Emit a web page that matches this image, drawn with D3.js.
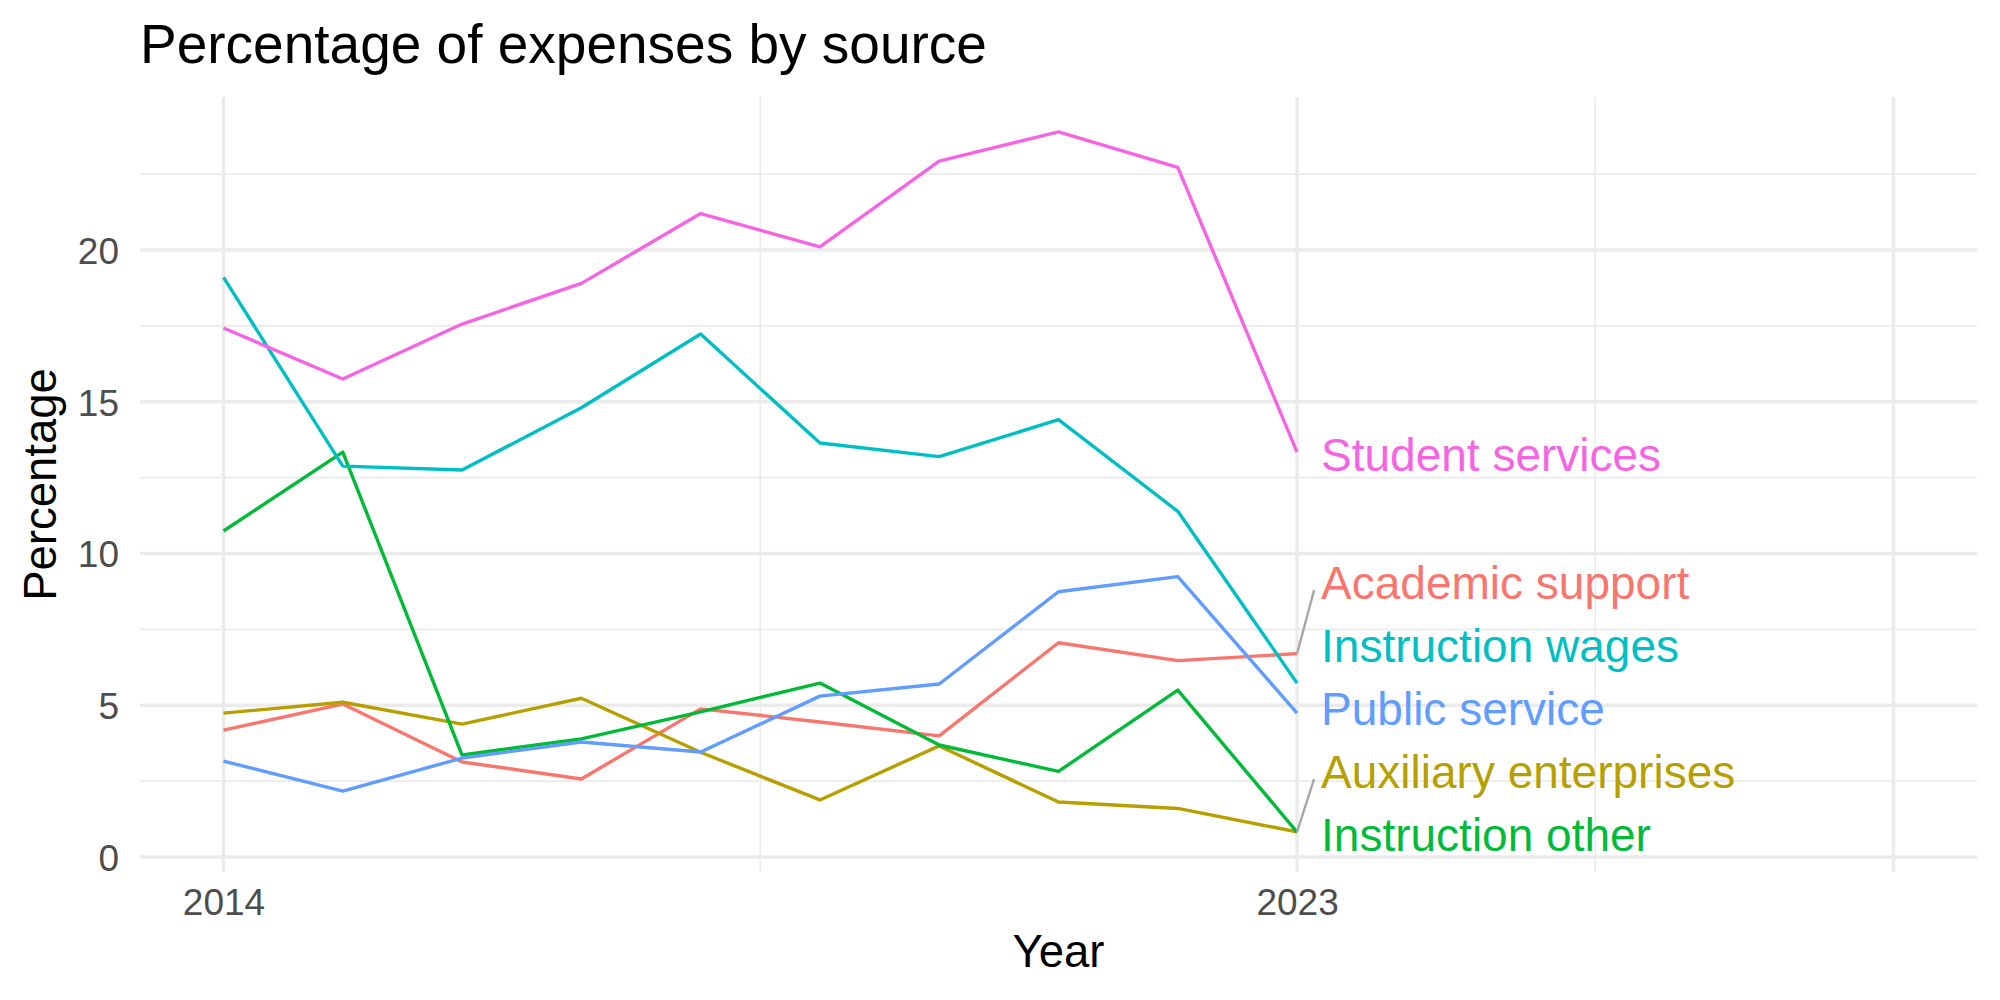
<!DOCTYPE html>
<html>
<head>
<meta charset="utf-8">
<script src="https://cdn.jsdelivr.net/npm/d3@7"></script>
<style>
  html, body { margin: 0; padding: 0; background: #fff; }
  svg { display: block; font-family: "Liberation Sans", Arial, Helvetica, sans-serif; }
</style>
</head>
<body>
<svg id="chart" width="2000" height="1000"></svg>
<script>
// ---- data ----
const years = [2014, 2015, 2016, 2017, 2018, 2019, 2020, 2021, 2022, 2023];
const categories = ["Academic support", "Auxiliary enterprises", "Instruction other",
                    "Instruction wages", "Public service", "Student services"];
const academicSupport      = [4.18, 5.04, 3.13, 2.57, 4.88, 4.45, 3.99, 7.06, 6.47, 6.70];
const auxiliaryEnterprises = [4.74, 5.10, 4.38, 5.23, 3.45, 1.88, 3.66, 1.81, 1.60, 0.83];
const instructionOther     = [10.74, 13.34, 3.36, 3.89, 4.78, 5.73, 3.69, 2.82, 5.50, 0.82];
const instructionWages     = [19.10, 12.88, 12.75, 14.80, 17.23, 13.64, 13.19, 14.41, 11.39, 5.73];
const publicService        = [3.16, 2.17, 3.26, 3.79, 3.46, 5.30, 5.70, 8.74, 9.24, 4.74];
const studentServices      = [17.43, 15.75, 17.56, 18.90, 21.20, 20.10, 22.93, 23.89, 22.72, 13.34];
const colors = ["#F8766D", "#B79F00", "#00BA38", "#00BFC4", "#619CFF", "#F564E3"];
const xTickValues = [2014, 2023];
const xMajorGrid = [2014, 2023, 2028];
const xMinorGrid = [2018.5, 2025.5];
const yTickValues = [0, 5, 10, 15, 20];
const yMinorGrid = [2.5, 7.5, 12.5, 17.5, 22.5];
const seriesValues = [academicSupport, auxiliaryEnterprises, instructionOther,
                      instructionWages, publicService, studentServices];

const series = categories.map((c, i) => ({
  name: c, color: colors[i],
  values: years.map((y, j) => ({ year: y, value: seriesValues[i][j] }))
}));

// ---- layout ----
const panel = { left: 140, right: 1977, top: 97, bottom: 872 };
const svg = d3.select("#chart");

const x = d3.scaleLinear().domain([2013.3, 2028.7]).range([panel.left, panel.right]);
const y = d3.scaleLinear().domain([0, 20]).range([857, 250]);

const g = svg.append("g");

// grid
const grid = g.append("g");
grid.selectAll(".hmin").data(yMinorGrid).join("line")
  .attr("x1", panel.left).attr("x2", panel.right)
  .attr("y1", d => y(d)).attr("y2", d => y(d))
  .attr("stroke", "#EBEBEB").attr("stroke-width", 1.7);
grid.selectAll(".vmin").data(xMinorGrid).join("line")
  .attr("y1", panel.top).attr("y2", panel.bottom)
  .attr("x1", d => x(d)).attr("x2", d => x(d))
  .attr("stroke", "#EBEBEB").attr("stroke-width", 1.7);
grid.selectAll(".hmaj").data(yTickValues).join("line")
  .attr("x1", panel.left).attr("x2", panel.right)
  .attr("y1", d => y(d)).attr("y2", d => y(d))
  .attr("stroke", "#EBEBEB").attr("stroke-width", 3.4);
grid.selectAll(".vmaj").data(xMajorGrid).join("line")
  .attr("y1", panel.top).attr("y2", panel.bottom)
  .attr("x1", d => x(d)).attr("x2", d => x(d))
  .attr("stroke", "#EBEBEB").attr("stroke-width", 3.4);

// axes (text only, ggplot minimal style)
const yAxis = d3.axisLeft(y).tickValues(yTickValues).tickSize(0).tickPadding(21);
const yAxisG = g.append("g").attr("transform", `translate(${panel.left},0)`).call(yAxis);
yAxisG.select(".domain").remove();
yAxisG.selectAll("text").attr("font-size", 37).attr("fill", "#4D4D4D")
  .attr("font-family", '"Liberation Sans", Arial, sans-serif').attr("dy", "0.36em");

const xAxis = d3.axisBottom(x).tickValues(xTickValues).tickFormat(d3.format("d")).tickSize(0).tickPadding(0);
const xAxisG = g.append("g").attr("transform", `translate(0,${panel.bottom})`).call(xAxis);
xAxisG.select(".domain").remove();
xAxisG.selectAll("text").attr("font-size", 37).attr("fill", "#4D4D4D")
  .attr("font-family", '"Liberation Sans", Arial, sans-serif')
  .attr("dy", null).attr("y", 43);

// lines
const line = d3.line().x(d => x(d.year)).y(d => y(d.value));
g.append("g").selectAll("path").data(series).join("path")
  .attr("d", d => line(d.values))
  .attr("fill", "none")
  .attr("stroke", d => d.color)
  .attr("stroke-width", 3.4)
  .attr("stroke-linejoin", "round");

// end labels with simple repel (stack upward from the bottom)
const lastYear = years[years.length - 1];
const ends = series.map((s, i) => ({ s, i, ty: y(s.values[s.values.length - 1].value) }));
ends.sort((a, b) => (b.ty - a.ty) || (b.i - a.i));
const spacing = 63;
let prev = Infinity;
ends.forEach(e => {
  e.ly = Math.min(e.ty, prev - spacing);
  prev = e.ly;
});
const lx = x(lastYear);
const labG = g.append("g");
ends.forEach(e => {
  const baseline = e.ly + 19;
  if (e.ty - e.ly > 50) {
    labG.append("line")
      .attr("x1", lx).attr("y1", e.ty)
      .attr("x2", lx + 17).attr("y2", baseline - 9)
      .attr("stroke", "#A8A8A8").attr("stroke-width", 2.4);
  }
  labG.append("text")
    .attr("x", lx + 24).attr("y", baseline)
    .attr("font-size", 46)
    .attr("fill", e.s.color)
    .text(e.s.name);
});

// titles
svg.append("text").attr("x", 140).attr("y", 63)
  .attr("font-size", 55).attr("fill", "#000")
  .text("Percentage of expenses by source");
svg.append("text").attr("x", (panel.left + panel.right) / 2).attr("y", 967)
  .attr("text-anchor", "middle").attr("font-size", 45.5).attr("fill", "#000")
  .text("Year");
svg.append("text")
  .attr("transform", `translate(56,${(panel.top + panel.bottom) / 2}) rotate(-90)`)
  .attr("text-anchor", "middle").attr("font-size", 45.5).attr("fill", "#000")
  .text("Percentage");
</script>
</body>
</html>
